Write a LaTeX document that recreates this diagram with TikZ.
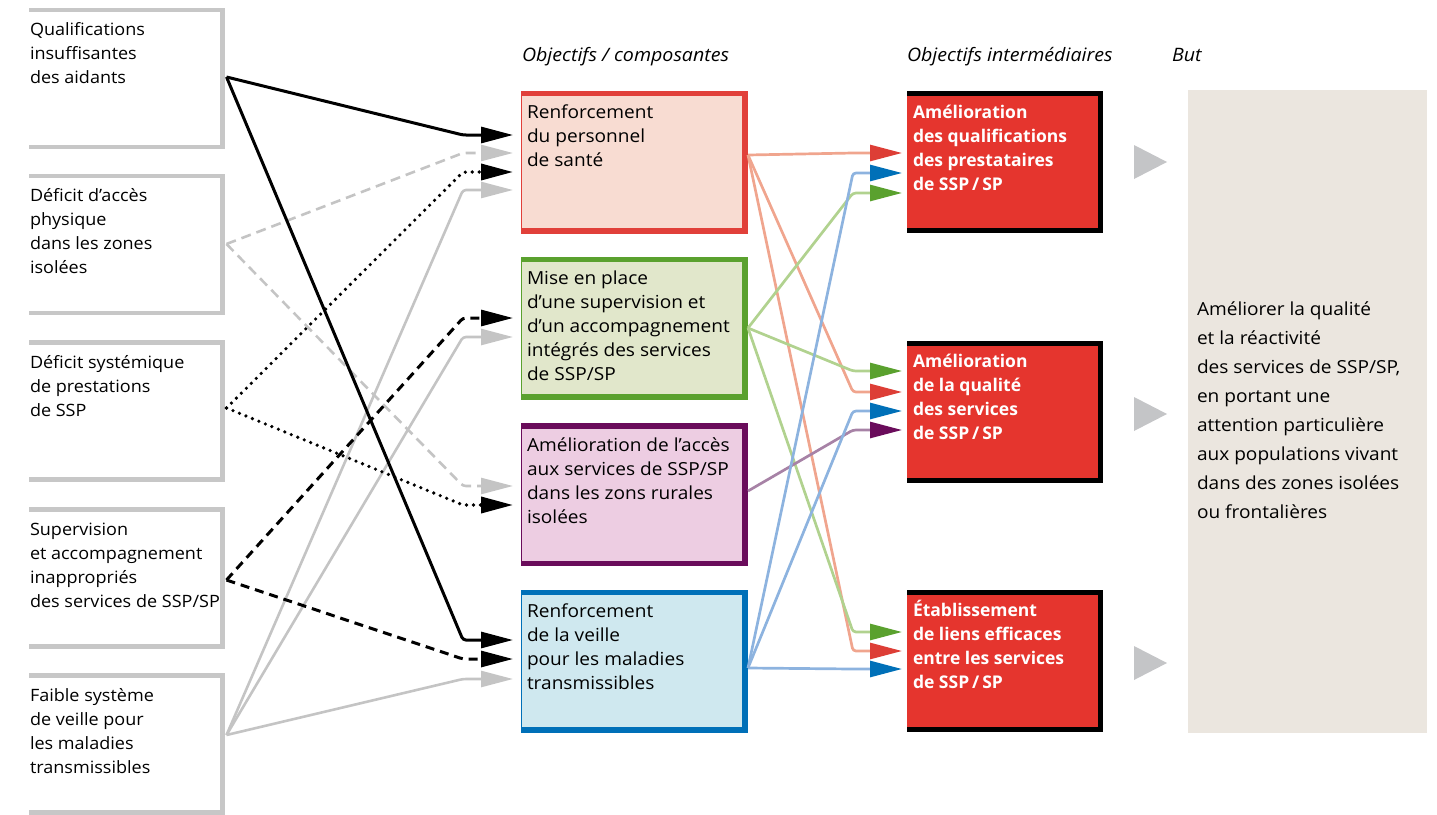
\documentclass[tikz,border=0pt]{standalone}
\usepackage{fontspec}
\setmainfont{Open Sans}[FakeStretch=1.06]
\newfontfamily\bfam{Open Sans}
\usetikzlibrary{arrows.meta,calc}
\definecolor{lgray}{HTML}{C7C7C7}
\definecolor{cgray}{HTML}{C4C4C4}
\definecolor{trigray}{HTML}{C4C5C7}
\definecolor{rbord}{HTML}{E1403A}
\definecolor{rfill}{HTML}{F8DCD2}
\definecolor{rline}{HTML}{F0A58E}
\definecolor{rhead}{HTML}{DD3E36}
\definecolor{gbord}{HTML}{5AA12E}
\definecolor{gfill}{HTML}{E1E7CB}
\definecolor{gline}{HTML}{B1D28F}
\definecolor{pbord}{HTML}{6A0C5B}
\definecolor{pfill}{HTML}{EDCDE2}
\definecolor{pline}{HTML}{A782A6}
\definecolor{bbord}{HTML}{0070B8}
\definecolor{bfill}{HTML}{CFE8EF}
\definecolor{bline}{HTML}{8DB3DF}
\definecolor{ifill}{HTML}{E5352E}
\definecolor{goalfill}{HTML}{EBE6DF}
\newcommand{\fls}{\rule{0pt}{18pt}}
\begin{document}
\begin{tikzpicture}[x=1pt,y=-1pt,
  lbox/.style={minimum width=193.5pt, minimum height=137pt, inner sep=0pt, outer sep=0pt},
  lborder/.style={draw=lgray, line width=4.5pt},
  mbox/.style={minimum width=226pt, minimum height=142pt, inner sep=0pt, outer sep=0pt, line width=1pt},
  ibox/.style={minimum width=196pt, minimum height=142pt, inner sep=0pt, outer sep=0pt, fill=ifill},
  txt/.style={inner sep=0pt, outer sep=0pt, anchor=north west, align=left, font=\fontsize{18}{24}\selectfont},
  ltxt/.style={txt, font=\fontsize{17}{24}\selectfont},
  itxt/.style={txt, text=white, font=\bfam\bfseries\fontsize{17.5}{24}\selectfont},
  gtxt/.style={txt, font=\fontsize{18}{29}\selectfont},
  head/.style={txt, font=\itshape\fontsize{18.5}{24}\selectfont},
  ltip/.style={-{Triangle[length=32pt,width=16pt]}},
  cblack/.style={ltip, draw=black, line width=3pt, rounded corners=3pt},
  cgrayl/.style={ltip, draw=cgray, line width=2.6pt, rounded corners=3pt},
  dashedl/.style={dash pattern=on 10pt off 6pt},
  dottedl/.style={line cap=round, dash pattern=on 0pt off 7pt, line width=3.6pt},
  rconn/.style={line width=2.7pt, rounded corners=3pt},
  tri/.style={fill=trigray}
]
\useasboundingbox (0,0) rectangle (1437,814);

% ---------- left boxes
\foreach \n/\yc in {1/78.5,2/244.5,3/411,4/578,5/744}{
  \node[lbox] (L\n) at (125.75,\yc) {};
  \draw[lborder] (L\n.north west) -- (L\n.north east) -- (L\n.south east) -- (L\n.south west);
}
\node[ltxt] (L1t) at (30,17.5) {\fls Qualifications\\insuffisantes\\des aidants};
\node[ltxt] (L2t) at (30,183.5) {\fls Déficit d’accès\\physique\\dans les zones\\isolées};
\node[ltxt] (L3t) at (30,350) {\fls Déficit systémique\\de prestations\\de SSP};
\node[ltxt] (L4t) at (30,517) {\fls Supervision\\et accompagnement\\inappropriés\\des services de SSP/SP};
\node[ltxt] (L5t) at (30,683) {\fls Faible système\\de veille pour\\les maladies\\transmissibles};

% ---------- headings
\node[head] (H1) at (522,43) {\fls Objectifs / composantes};
\node[head] (H2) at (907,43) {\fls Objectifs intermédiaires};
\node[head] (H3) at (1172,43) {\fls But};

% ---------- middle boxes
\node[mbox, draw=rbord, fill=rfill] (M1) at (634,162) {};
\node[mbox, draw=gbord, fill=gfill] (M2) at (634,328) {};
\node[mbox, draw=pbord, fill=pfill] (M3) at (634,494.5) {};
\node[mbox, draw=bbord, fill=bfill] (M4) at (634,661) {};
\foreach \m/\c in {M1/rbord,M2/gbord,M3/pbord,M4/bbord}{
  \draw[line width=5pt, \c] ($(\m.north west)+(0,2.5)$) -| ($(\m.south east)+(-2.5,-2.5)$) -- ($(\m.south west)+(0,-2.5)$);
}
\node[txt] (M1t) at (527,100) {\fls Renforcement\\du personnel\\de santé};
\node[txt] (M2t) at (527,266) {\fls Mise en place\\d’une supervision et\\d’un accompagnement\\intégrés des services\\de SSP/SP};
\node[txt] (M3t) at (527,433) {\fls Amélioration de l’accès\\aux services de SSP/SP\\dans les zons rurales\\isolées};
\node[txt] (M4t) at (527,599) {\fls Renforcement\\de la veille\\pour les maladies\\transmissibles};

% ---------- intermediate boxes
\node[ibox] (I1) at (1005,162) {};
\node[ibox] (I2) at (1005,411.5) {};
\node[ibox] (I3) at (1005,661) {};
\foreach \m in {I1,I2,I3}{
  \draw[line width=5pt, black] ($(\m.north west)+(0,2.5)$) -| ($(\m.south east)+(-2.5,-2.5)$) -- ($(\m.south west)+(0,-2.5)$);
}
\node[itxt] (I1t) at (913,100) {\fls Amélioration\\des qualifications\\des prestataires\\de SSP\,/\,SP};
\node[itxt] (I2t) at (913,349) {\fls Amélioration\\de la qualité\\des services\\de SSP\,/\,SP};
\node[itxt] (I3t) at (913,598) {\fls Établissement\\de liens efficaces\\entre les services\\de SSP\,/\,SP};

% ---------- goal
\node[minimum width=239pt, minimum height=643pt, inner sep=0pt, fill=goalfill] (G) at (1307.5,411.5) {};
\node[gtxt] (Gt) at (1197,297) {\fls Améliorer la qualité\\et la réactivité\\des services de SSP/SP,\\en portant une\\attention particulière\\aux populations vivant\\dans des zones isolées\\ou frontalières};

% gray triangles
\foreach \yc in {162,414,663}{
  \fill[tri] (1134,\yc-17) -- (1167,\yc) -- (1134,\yc+17) -- cycle;
}

% ---------- connector coordinates
\coordinate (L1o) at (226.5,77);
\coordinate (L2o) at (226.5,244);
\coordinate (L3o) at (226.5,408);
\coordinate (L4o) at (226.5,580);
\coordinate (L5o) at (226.5,735);
\coordinate (M1a) at (513,135);
\coordinate (M1b) at (513,153);
\coordinate (M1c) at (513,172);
\coordinate (M1d) at (513,190);
\coordinate (M2a) at (513,318);
\coordinate (M2b) at (513,337);
\coordinate (M3a) at (513,486);
\coordinate (M3b) at (513,505);
\coordinate (M4a) at (513,640);
\coordinate (M4b) at (513,659);
\coordinate (M4c) at (513,679);

\coordinate (M1o) at (748,155);
\coordinate (M2o) at (748,328);
\coordinate (M3o) at (748,491);
\coordinate (M4o) at (748,668);
\coordinate (I1a) at (902,153);
\coordinate (I1b) at (902,173);
\coordinate (I1c) at (902,193);
\coordinate (I2a) at (902,371);
\coordinate (I2b) at (902,392);
\coordinate (I2c) at (902,411);
\coordinate (I2d) at (902,430);
\coordinate (I3a) at (902,632);
\coordinate (I3b) at (902,651);
\coordinate (I3c) at (902,669);

% ---------- left connectors
\draw[cgrayl] (L5o) -- ([xshift=-50pt]M1d) -- (M1d);
\draw[cgrayl] (L5o) -- ([xshift=-50pt]M2b) -- (M2b);
\draw[cgrayl] (L5o) -- ([xshift=-50pt]M4c) -- (M4c);
\draw[cgrayl, dashedl] (L2o) -- ([xshift=-50pt]M1b) -- (M1b);
\draw[cgrayl, dashedl] (L2o) -- ([xshift=-50pt]M3a) -- (M3a);
\draw[cblack] (L1o) -- ([xshift=-50pt]M1a) -- (M1a);
\draw[cblack] (L1o) -- ([xshift=-50pt]M4a) -- (M4a);
\draw[cblack, dottedl] (L3o) -- ([xshift=-50pt]M1c) -- (M1c);
\draw[cblack, dottedl] (L3o) -- ([xshift=-50pt]M3b) -- (M3b);
\draw[cblack, dash pattern=on 9pt off 6pt] (L4o) -- ([xshift=-50pt]M2a) -- (M2a);
\draw[cblack, dash pattern=on 9pt off 6pt] (L4o) -- ([xshift=-50pt]M4b) -- (M4b);

% ---------- right connectors
\draw[rconn, draw=rline, -{Triangle[length=32pt,width=16pt,color=rhead]}] (M1o) -- ([xshift=-49pt]I1a) -- (I1a);
\draw[rconn, draw=rline, -{Triangle[length=32pt,width=16pt,color=rhead]}] (M1o) -- ([xshift=-49pt]I2b) -- (I2b);
\draw[rconn, draw=rline, -{Triangle[length=32pt,width=16pt,color=rhead]}] (M1o) -- ([xshift=-49pt]I3b) -- (I3b);
\draw[rconn, draw=gline, -{Triangle[length=32pt,width=16pt,color=gbord]}] (M2o) -- ([xshift=-49pt]I1c) -- (I1c);
\draw[rconn, draw=gline, -{Triangle[length=32pt,width=16pt,color=gbord]}] (M2o) -- ([xshift=-49pt]I2a) -- (I2a);
\draw[rconn, draw=gline, -{Triangle[length=32pt,width=16pt,color=gbord]}] (M2o) -- ([xshift=-49pt]I3a) -- (I3a);
\draw[rconn, draw=pline, -{Triangle[length=32pt,width=16pt,color=pbord]}] (M3o) -- ([xshift=-49pt]I2d) -- (I2d);
\draw[rconn, draw=bline, -{Triangle[length=32pt,width=16pt,color=bbord]}] (M4o) -- ([xshift=-49pt]I1b) -- (I1b);
\draw[rconn, draw=bline, -{Triangle[length=32pt,width=16pt,color=bbord]}] (M4o) -- ([xshift=-49pt]I2c) -- (I2c);
\draw[rconn, draw=bline, -{Triangle[length=32pt,width=16pt,color=bbord]}] (M4o) -- ([xshift=-49pt]I3c) -- (I3c);
\end{tikzpicture}
\end{document}
